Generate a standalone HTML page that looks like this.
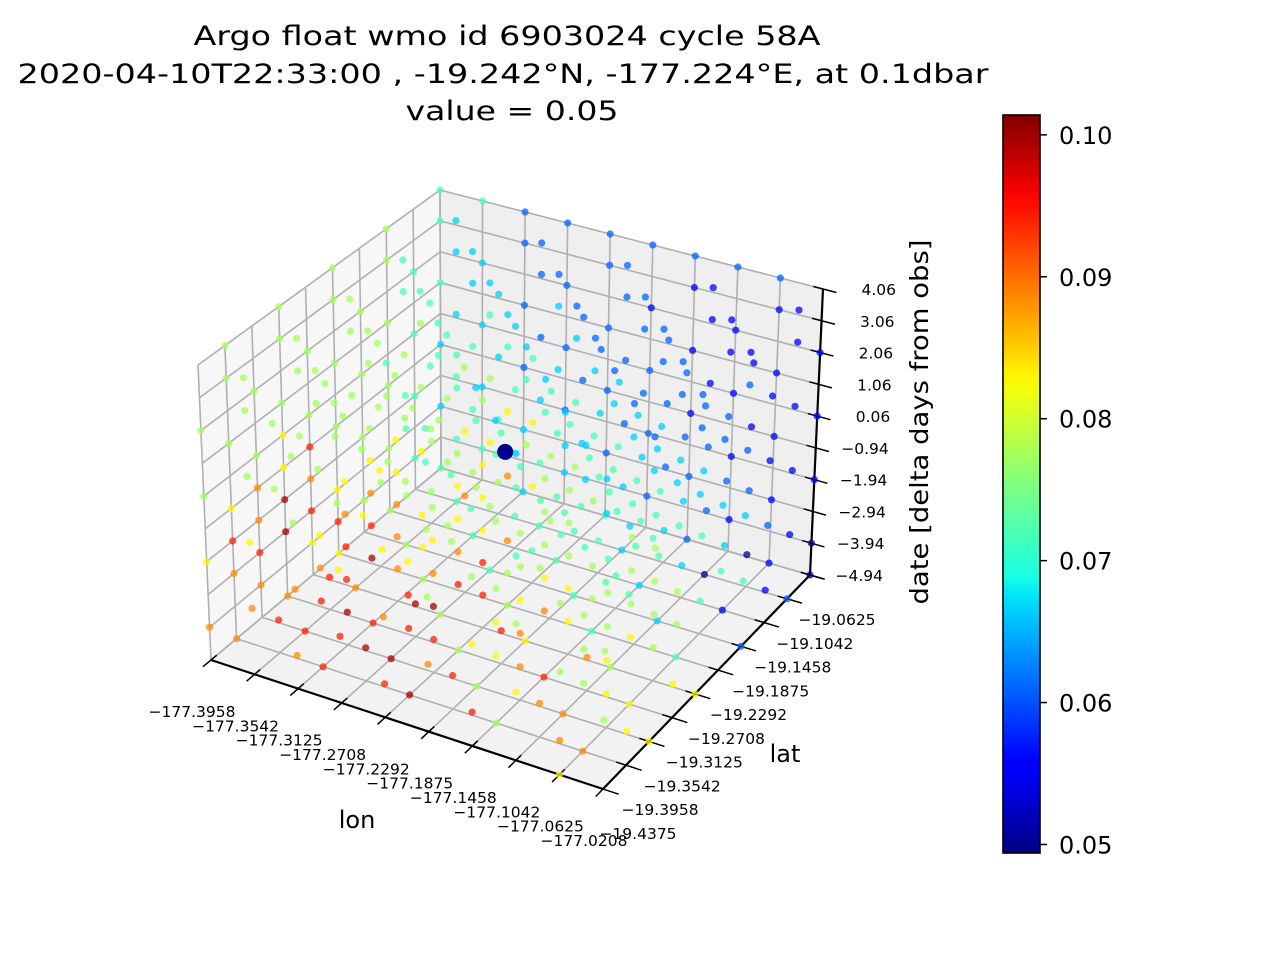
<!DOCTYPE html>
<html><head><meta charset="utf-8"><style>
html,body{margin:0;padding:0;background:#fff;width:1280px;height:960px;overflow:hidden}
svg{display:block;font-family:"DejaVu Sans","Liberation Sans",sans-serif}
</style></head><body>
<svg id="chart" width="1280" height="960" viewBox="0 0 1280 960" xmlns="http://www.w3.org/2000/svg">
<g font-size="27" fill="#000" text-anchor="middle">
<text x="507" y="45" textLength="627" lengthAdjust="spacingAndGlyphs">Argo float wmo id 6903024 cycle 58A</text>
<text x="503" y="83" textLength="971" lengthAdjust="spacingAndGlyphs">2020-04-10T22:33:00 , -19.242°N, -177.224°E, at 0.1dbar</text>
<text x="512" y="120" textLength="213" lengthAdjust="spacingAndGlyphs">value = 0.05</text>
</g>
<g id="panes"></g><g id="grid"></g><g id="axes"></g><g id="points"></g><g id="cbar"></g>
</svg>
<script>
const lonTicks=["−177.3958","−177.3542","−177.3125","−177.2708","−177.2292","−177.1875","−177.1458","−177.1042","−177.0625","−177.0208"];
const latTicks=["−19.4375","−19.3958","−19.3542","−19.3125","−19.2708","−19.2292","−19.1875","−19.1458","−19.1042","−19.0625"];
const dayTicks=["−4.94","−3.94","−2.94","−1.94","−0.94","0.06","1.06","2.06","3.06","4.06"];
const lonMin=-177.3958, lonMax=-177.0208, latMin=-19.4375, latMax=-19.0625, dayMin=-4.94, dayMax=4.06;
const vmin=0.0494, vmax=0.1014;
const cbTicks=[0.05,0.06,0.07,0.08,0.09,0.10];
const obsLon=-177.224, obsLat=-19.242, obsDay=0.06, obsValue=0.05;
// value code digit d -> 0.05 + d*0.0055 ; '.' = no data. rows: lat index 9 (back) .. 0 (front); columns lon 0..9
const layer0=["4.3.4.2.10",".4.4.3.0.2","5.4.4.3.1.",".5.4.4.3.2","6.5.5.4.4.",".7.5.6.5.6","7.8.5.8.6.",".8.9.5.7.6","7.8.9.5.7.","........6."];
const layer1=[".4.3.2.1.0","4.5.4.3.0.",".5.4.4.3.1","5.5.4.4.4.","8.6.5.5.5.4","6.7.8.6.5.",".8.9.8.7.6","7.9.8.7.6.",".8.9.8.7.6","7.7.8.8.7."];
const layer2=["3.3.2.2.1.",".4.4.3.2.1","5.5.4.4.3.",".5.5.4.4.4","6.6.7.5.5.","8.7.8.6.5.5","9.9.8.7.6.","8.8.9.7.6.5","7.8.8.6.5.",".7.8.7.6.5"];
const layer3=[".3.2.2.1.1","4.4.3.2.2.",".5.4.4.3.2","5.5.6.4.4.",".6.7.5.4.4","7.7.6.5.5.","9.8.7.6.5.5","7.8.7.6.5.","8.7.8.6.5.5","6.7.7.6.5."];
const layer4=["3.2.2.1.1.",".4.3.2.2.1","5.4.4.3.2.",".5.6.5.4.3","5.6.7.5.4.","8.6.6.5.5.4","6.7.6.5.5.","7.7.6.5.5.4","6.6.6.5.5.",".6.6.5.5.5"];
const layer5=[".3.2.2.1.1","4.3.2.2.1.",".4.4.3.2.1","5.5.6.4.3.",".5.6.5.4.3","5.6.6.5.4.","6.6.6.5.5.4","5.6.5.5.4.",".5.6.5.5.4","5.5.6.5.5."];
const layer6=["4.2.2.1.1.",".3.2.2.1.1","5.4.3.2.2.",".5.5.4.3.2","5.5.6.4.3.",".5.5.5.4.3","5.5.5.5.4.",".5.5.5.4.4","5.5.5.5.4.",".5.5.5.4.4"];
const layer7=[".3.2.1.1.1","4.3.2.2.1.",".4.3.2.2.1","5.4.4.3.2.",".5.5.4.3.2","5.5.5.4.3.",".5.5.4.4.3","5.5.5.4.4.",".5.5.4.4.3","5.5.5.4.4."];
const layer8=["4.2.2.1.1.",".3.2.2.1.1","5.3.3.2.1.",".4.4.3.2.2","5.5.4.3.2.",".5.4.4.3.2","5.5.4.4.3.",".5.5.4.3.3","5.5.4.4.3.",".5.5.4.4.3"];
const layer9=["442222222.",".3.2.2.1.1","5.3.2.2.1.",".4.3.2.2.1","5.4.3.2.2.",".5.4.3.2.2","5.5.4.3.2.",".5.4.3.3.2","5.5.4.3.3.",".5.5.4.3.3"];
const layers=[layer0,layer1,layer2,layer3,layer4,layer5,layer6,layer7,layer8,layer9];

const NS="http://www.w3.org/2000/svg";
function mk(tag,attrs,parent){const e=document.createElementNS(NS,tag);for(const k in attrs)e.setAttribute(k,attrs[k]);parent.appendChild(e);return e;}
const F00=[211,660],F10=[603,789],F11=[810,575],F01=[441,468];
const T00=[198,365],T10=[607,479],T11=[823,289],T01=[440,190];
function bil(a,b,c,d,u,v,i){return (1-u)*(1-v)*a[i]+u*(1-v)*b[i]+u*v*c[i]+(1-u)*v*d[i];}
function P(u,v,w){const out=[];for(let i=0;i<2;i++){const f=bil(F00,F10,F11,F01,u,v,i),t=bil(T00,T10,T11,T01,u,v,i);out.push(f+(t-f)*w);}return out;}
function xs(lon){return (lon-lonMin)/(lonMax-lonMin);}
function ys(lat){return (lat-latMin)/(latMax-latMin);}
function zs(d){return (d-dayMin)/(dayMax-dayMin);}
function poly(pts){return pts.map(p=>p[0].toFixed(1)+","+p[1].toFixed(1)).join(" ");}
function jet(t){t=Math.max(0,Math.min(1,t));
 const st=[[0,0,0,0.5],[0.11,0,0,1],[0.125,0,0,1],[0.34,0,0.86,1],[0.35,0,0.9,0.97],[0.375,0.1,1,0.9],[0.5,0.5,1,0.5],[0.64,1,1,0],[0.66,1,0.9,0],[0.89,1,0,0],[1,0.5,0,0]];
 for(let i=1;i<st.length;i++){if(t<=st[i][0]){const a=st[i-1],b=st[i],f=(t-a[0])/(b[0]-a[0]||1);
 return "rgb("+[1,2,3].map(k=>Math.round(255*(a[k]+(b[k]-a[k])*f))).join(",")+")";}}
 return "rgb(127,0,0)";}

const panes=document.getElementById('panes');
let e;
e=mk('polygon',{points:poly([P(0,0,0),P(1,0,0),P(1,1,0),P(0,1,0)]),fill:"#f2f2f2"},panes);


e=mk('polygon',{points:poly([P(0,0,0),P(0,1,0),P(0,1,1),P(0,0,1)]),fill:"#f7f7f7"},panes);


e=mk('polygon',{points:poly([P(0,1,0),P(1,1,0),P(1,1,1),P(0,1,1)]),fill:"#efefef"},panes);



const grid=document.getElementById('grid');
function gl(a,b){const l=mk('line',{x1:a[0],y1:a[1],x2:b[0],y2:b[1],stroke:"#b0b0b0","stroke-width":1.6},grid);return l;}
for(let i=0;i<10;i++){const t=i/9;
 let l;
 l=gl(P(t,0,0),P(t,1,0));
 
 
 l=gl(P(0,t,0),P(1,t,0));
 
 
 l=gl(P(t,1,0),P(t,1,1));
 
 
 l=gl(P(0,t,0),P(0,t,1));
 
 
 l=gl(P(0,1,t),P(1,1,t));
 
 
 l=gl(P(0,0,t),P(0,1,t));
 
 
}

const axes=document.getElementById('axes');
function al(a,b,w,name){const l=mk('line',{x1:a[0],y1:a[1],x2:b[0],y2:b[1],stroke:"#000","stroke-width":w},axes);return l;}
al(P(0,0,0),P(1,0,0),2.2,'lon-axis-line');
al(P(1,0,0),P(1,1,0),2.2,'lat-axis-line');
al(P(1,1,0),P(1,1,1),2.2,'day-axis-line');
for(let i=0;i<10;i++){
 const lv=lonMin+i*(lonMax-lonMin)/9, u=xs(lv);
 al(P(u,-0.035,0),P(u,0.025,0),1.5,'lon-tick');
 const p=P(u,0,0);
 let t=mk('text',{x:p[0]-19,y:p[1]+57,"font-size":15.5,"text-anchor":"middle"},axes);t.textContent=lonTicks[i];
 
 
 const la=latMin+i*(latMax-latMin)/9, v=ys(la);
 al(P(0.975,v,0),P(1.04,v,0),1.5,'lat-tick');
 const q=P(1,v,0), f=i/9;
 t=mk('text',{x:q[0]+35-8*f,y:q[1]+50,"font-size":15.5,"text-anchor":"middle"},axes);t.textContent=latTicks[i];
 
 
 const dv=dayMin+i*(dayMax-dayMin)/9, w=zs(dv);
 al(P(0.975,1,w),P(1.035,1,w),1.5,'day-tick');
 const r=P(1,1,w);
 t=mk('text',{x:r[0]+73,y:r[1]+6,"font-size":15.5,"text-anchor":"end"},axes);t.textContent=dayTicks[i];
 
 
}
let lab=mk('text',{x:357,y:828,"font-size":24,"text-anchor":"middle"},axes);lab.textContent="lon";


lab=mk('text',{x:785,y:762,"font-size":24,"text-anchor":"middle"},axes);lab.textContent="lat";


lab=mk('text',{x:0,y:0,"font-size":25,"text-anchor":"middle",textLength:365,lengthAdjust:"spacingAndGlyphs",transform:"translate(928,422) rotate(-90)"},axes);lab.textContent="date [delta days from obs]";



const pts=[];
for(let k=0;k<10;k++){for(let r=0;r<10;r++){const row=layers[k][r];for(let c=0;c<10&&c<row.length;c++){const ch=row[c];if(ch==='.')continue;
 const lon=lonMin+c*(lonMax-lonMin)/9, lat=latMin+(9-r)*(latMax-latMin)/9, day=dayMin+k*(dayMax-dayMin)/9, val=0.05+(+ch)*0.0055;
 pts.push({lon,lat,day,val});}}}
pts.sort((a,b)=>(ys(b.lat)-xs(b.lon))-(ys(a.lat)-xs(a.lon)));
const pg=document.getElementById('points');
for(const d of pts){const p=P(xs(d.lon),ys(d.lat),zs(d.day));
 const c=mk('circle',{cx:p[0].toFixed(1),cy:p[1].toFixed(1),r:3.6,fill:jet((d.val-vmin)/(vmax-vmin)),"fill-opacity":0.75},pg);
 
 
}
const op=P(xs(obsLon),ys(obsLat),zs(obsDay));
const oc=mk('circle',{cx:op[0],cy:op[1],r:8,fill:jet((obsValue-vmin)/(vmax-vmin))},pg);



const cb=document.getElementById('cbar');
const defs=mk('defs',{},cb);
const grad=mk('linearGradient',{id:"jetg",x1:0,y1:1,x2:0,y2:0},defs);
for(let i=0;i<=40;i++){mk('stop',{offset:(i/40),"stop-color":jet(i/40)},grad);}
const cbTop=115, cbBot=853, cbX=1003, cbW=37;
const rect=mk('rect',{x:cbX,y:cbTop,width:cbW,height:cbBot-cbTop,fill:"url(#jetg)",stroke:"#000","stroke-width":1.6},cb);


function cy(v){return cbBot-(v-vmin)/(vmax-vmin)*(cbBot-cbTop);}
for(const v of cbTicks){const y=cy(v);
 const l=mk('line',{x1:cbX+cbW,y1:y,x2:cbX+cbW+7,y2:y,stroke:"#000","stroke-width":1.5},cb);
 
 
 const t=mk('text',{x:1059,y:y+9,"font-size":24},cb);t.textContent=v.toFixed(2);
 
 
}
</script>
</body></html>
